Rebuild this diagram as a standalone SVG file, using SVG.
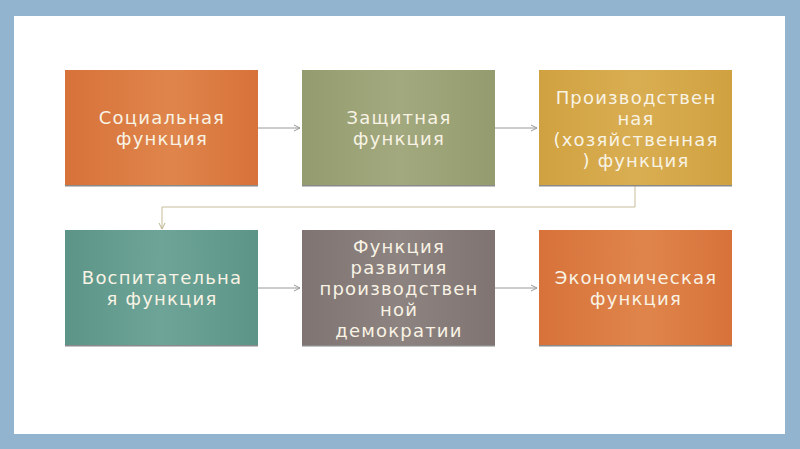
<svg xmlns="http://www.w3.org/2000/svg" width="800" height="449" viewBox="0 0 800 449">
<defs>
<linearGradient id="gO" x1="0" x2="1" y1="0" y2="0"><stop offset="0" stop-color="#d7723a"/><stop offset="0.55" stop-color="#df854b"/><stop offset="1" stop-color="#d7723a"/></linearGradient>
<linearGradient id="gG" x1="0" x2="1" y1="0" y2="0"><stop offset="0" stop-color="#949c6f"/><stop offset="0.5" stop-color="#a3a97e"/><stop offset="1" stop-color="#949c6f"/></linearGradient>
<linearGradient id="gY" x1="0" x2="1" y1="0" y2="0"><stop offset="0" stop-color="#d0a140"/><stop offset="0.5" stop-color="#d9ae52"/><stop offset="1" stop-color="#d0a140"/></linearGradient>
<linearGradient id="gT" x1="0" x2="1" y1="0" y2="0"><stop offset="0" stop-color="#5c9588"/><stop offset="0.5" stop-color="#6da497"/><stop offset="1" stop-color="#5c9588"/></linearGradient>
<linearGradient id="gB" x1="0" x2="1" y1="0" y2="0"><stop offset="0" stop-color="#7f7472"/><stop offset="0.5" stop-color="#8d8381"/><stop offset="1" stop-color="#7f7472"/></linearGradient>
<marker id="arr" markerWidth="8" markerHeight="8" refX="7" refY="4" orient="auto" markerUnits="userSpaceOnUse"><path d="M1,1 L7,4 L1,7" fill="none" stroke="#9a9a9a" stroke-width="1"/></marker>
<marker id="arr2" markerWidth="8" markerHeight="8" refX="7" refY="4" orient="auto" markerUnits="userSpaceOnUse"><path d="M1,1 L7,4 L1,7" fill="none" stroke="#bdb38c" stroke-width="1"/></marker>
</defs>
<style>
.t{font-family:"DejaVu Sans","Noto Sans",sans-serif;font-size:18px;letter-spacing:1.2px;fill:#f8f3e4;text-anchor:middle}
.sh{fill:#8a8a8a}
.c{fill:none;stroke:#9a9a9a;stroke-width:1}
</style>
<rect x="0" y="0" width="800" height="449" fill="#93b4cf"/>
<rect x="14" y="16" width="771" height="418" fill="#ffffff"/>
<g id="connectors">
<line class="c" x1="258" y1="128" x2="300" y2="128" marker-end="url(#arr)"/>
<line class="c" x1="495" y1="128" x2="537" y2="128" marker-end="url(#arr)"/>
<polyline class="c" style="stroke:#c6bd98" points="635,186 635,207 162,207 162,229" marker-end="url(#arr2)"/>
<line class="c" x1="258" y1="288" x2="300" y2="288" marker-end="url(#arr)"/>
<line class="c" x1="495" y1="288" x2="537" y2="288" marker-end="url(#arr)"/>
</g>
<g id="n1"><rect x="65" y="70" width="193" height="116" fill="url(#gO)"/><rect class="sh" x="65" y="185" width="193" height="1.5"/>
<text class="t" x="162" y="124">Социальная</text><text class="t" x="162" y="145">функция</text></g>
<g id="n2"><rect x="302" y="70" width="193" height="116" fill="url(#gG)"/><rect class="sh" x="302" y="185" width="193" height="1.5"/>
<text class="t" x="399" y="124">Защитная</text><text class="t" x="399" y="145">функция</text></g>
<g id="n3"><rect x="539" y="70" width="193" height="116" fill="url(#gY)"/><rect class="sh" x="539" y="185" width="193" height="1.5"/>
<text class="t" x="636" y="104">Производствен</text><text class="t" x="636" y="125">ная</text><text class="t" x="636" y="146">(хозяйственная</text><text class="t" x="636" y="167">) функция</text></g>
<g id="n4"><rect x="65" y="230" width="193" height="116" fill="url(#gT)"/><rect class="sh" x="65" y="345" width="193" height="1.5"/>
<text class="t" x="162" y="284">Воспитательна</text><text class="t" x="162" y="305">я функция</text></g>
<g id="n5"><rect x="302" y="230" width="193" height="116" fill="url(#gB)"/><rect class="sh" x="302" y="345" width="193" height="1.5"/>
<text class="t" x="399" y="253">Функция</text><text class="t" x="399" y="274">развития</text><text class="t" x="399" y="295">производствен</text><text class="t" x="399" y="316">ной</text><text class="t" x="399" y="337">демократии</text></g>
<g id="n6"><rect x="539" y="230" width="193" height="116" fill="url(#gO)"/><rect class="sh" x="539" y="345" width="193" height="1.5"/>
<text class="t" x="636" y="284">Экономическая</text><text class="t" x="636" y="305">функция</text></g>
</svg>
